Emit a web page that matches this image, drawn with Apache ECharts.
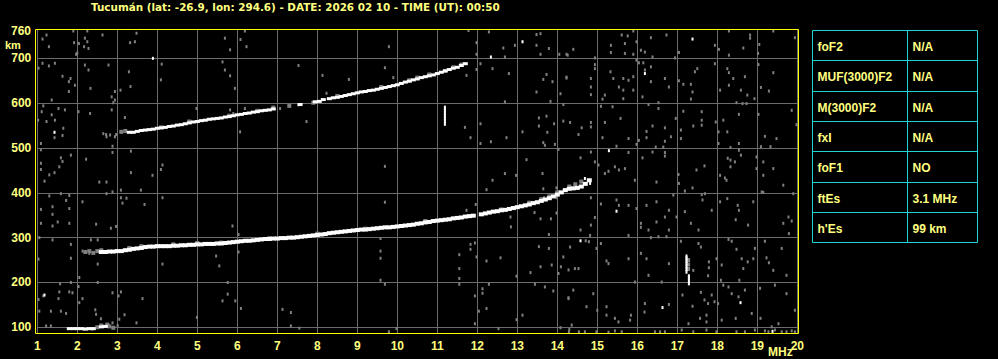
<!DOCTYPE html>
<html><head><meta charset="utf-8">
<script src="https://cdn.jsdelivr.net/npm/echarts@6/dist/echarts.min.js"></script>
<style>html,body{margin:0;padding:0;background:#000}#c{width:998px;height:359px}</style>
</head><body><div id="c"></div><script>
const titleText = 'Tucumán (lat: -26.9, lon: 294.6) - DATE: 2026 02 10 - TIME (UT): 00:50';
const yTickValues = [100, 200, 300, 400, 500, 600, 700];
const tableLabels = ['foF2', 'MUF(3000)F2', 'M(3000)F2', 'fxI', 'foF1', 'ftEs', "h'Es"];
const tableValues = ['N/A', 'N/A', 'N/A', 'N/A', 'NO', '3.1 MHz', '99 km'];

const lowerTrace = [[2.6,268],[2.7,268],[2.8,269],[2.9,269],[3.0,270],[3.1,270],[3.2,272],[3.3,273],[3.4,275],[3.5,276],[3.6,277],[3.7,279],[3.8,280],[3.9,280],[4.0,281],[4.1,281],[4.2,281],[4.3,281],[4.4,282],[4.5,282],[4.6,283],[4.7,283],[4.8,284],[4.9,284],[5.0,285],[5.1,285],[5.2,286],[5.3,286],[5.4,286],[5.5,287],[5.6,287],[5.7,288],[5.8,289],[5.9,290],[6.0,291],[6.1,292],[6.2,293],[6.3,293],[6.4,294],[6.5,295],[6.6,296],[6.7,297],[6.8,297],[6.9,298],[7.0,298],[7.1,299],[7.2,299],[7.3,300],[7.4,300],[7.5,301],[7.6,302],[7.7,303],[7.8,304],[7.9,305],[8.0,306],[8.1,307],[8.2,308],[8.3,310],[8.4,311],[8.5,312],[8.6,313],[8.7,314],[8.8,315],[8.9,316],[9.0,317],[9.1,318],[9.2,318],[9.3,319],[9.4,320],[9.5,321],[9.6,322],[9.7,323],[9.8,323],[9.9,324],[10.0,325],[10.1,326],[10.2,327],[10.3,328],[10.4,329],[10.5,331],[10.6,332],[10.7,334],[10.8,335],[10.9,337],[11.0,338],[11.1,339],[11.2,340],[11.3,341],[11.4,343],[11.5,344],[11.6,345],[11.7,347],[11.8,348],[11.9,349],[12.1,352],[12.2,354],[12.3,356],[12.4,358],[12.5,359],[12.6,361],[12.7,362],[12.8,364],[12.9,366],[13.0,368],[13.1,370],[13.2,372],[13.3,374],[13.4,377],[13.5,379],[13.6,382],[13.7,385],[13.8,388],[13.9,392],[14.0,396],[14.1,401],[14.2,406],[14.3,409],[14.4,410],[14.5,411],[14.6,414],[14.7,420],[14.8,428]];

const upperTrace = [[3.3,535],[3.4,535],[3.5,537],[3.6,539],[3.7,540],[3.8,541],[3.9,542],[4.0,544],[4.1,545],[4.2,546],[4.3,548],[4.4,549],[4.5,551],[4.6,552],[4.7,554],[4.8,556],[4.9,558],[5.0,559],[5.1,561],[5.2,562],[5.3,564],[5.4,565],[5.5,566],[5.6,567],[5.7,569],[5.8,570],[5.9,572],[6.0,574],[6.1,575],[6.2,577],[6.3,578],[6.4,580],[6.5,581],[6.6,583],[6.7,584],[6.8,585],[6.9,587],[7.57,597],[7.95,603],[8.05,604],[8.15,608],[8.3,610],[8.4,612],[8.5,613],[8.6,615],[8.7,617],[8.8,619],[8.9,621],[9.0,623],[9.1,625],[9.2,626],[9.3,628],[9.4,629],[9.5,631],[9.6,633],[9.7,635],[9.8,637],[9.9,639],[10.0,641],[10.1,644],[10.2,647],[10.3,649],[10.4,652],[10.5,654],[10.6,657],[10.7,659],[10.8,661],[10.9,663],[11.0,666],[11.1,669],[11.2,672],[11.3,675],[11.4,678],[11.5,680],[11.6,684],[11.7,688]];

const esTrace = [[1.8,97],[1.9,97],[2.0,97],[2.1,97],[2.2,96],[2.3,97],[2.4,97],[2.6,101],[2.7,102]];

const grayTrace = [[2.2,268],[2.3,270],[2.4,266],[2.5,270],[2.6,272],[3.3,277],[3.6,281],[4.4,285],[5.0,288],[5.6,289],[6.8,299],[8.0,309],[9.2,320],[10.7,337],[12.6,363],[13.3,378],[13.6,386],[13.8,392],[14.0,401],[14.3,414],[14.45,419],[14.6,425],
  [3.1,536],[3.2,538],[4.1,546],[4.8,559],[5.8,572],[6.5,583],[6.9,590],[7.3,594],[7.9,601],[8.5,616],[9.6,636],[10.3,651],[10.5,657],[10.8,664],[11.2,672],[11.4,680],[11.6,686],
  [2.5,100],[2.6,104],[2.75,106],[2.8,102],[2.9,99],[17.27,250],[17.27,240],[17.27,230]];

const whiteSpots = [[3.89,700],[1.43,535],[1.18,172],[12.34,703],[13.13,737],[17.38,743],[16.19,666],[15.29,494],[15.48,359],[14.58,293],[18.58,155],[16.63,144],[19.38,91],[14.69,432],[14.82,421]];

const whiteBars = [[11.19,554],[11.19,560],[11.19,566],[11.19,572],[11.19,578],[11.19,584],[11.19,590],[17.23,224],[17.23,230],[17.23,236],[17.23,242],[17.23,248],[17.23,254],[17.23,258],[17.29,198],[17.29,204],[17.29,210],[17.29,214]];

const noise = [
 [1.09,510],[1.43,523],[1.63,528],[2.72,530],[2.97,530],[2.88,504],[2.88,490],[1.09,496],[1.84,484],[1.59,478],[1.63,470],[2.22,475],[1.09,466],[1.55,458],[1.43,445],[1.30,440],[1.09,452],[1.18,426],[2.55,424],[2.73,424],[3.34,493],[3.34,445],[3.88,439],[4.13,462],[4.09,452],[3.09,406],[3.59,406],[2.73,398],[2.88,402],[1.30,393],[1.59,398],[1.80,394],[1.72,383],[2.13,380],[3.09,389],[3.23,388],[3.13,377],[3.68,374],[4.13,389],[1.09,363],[1.38,369],[1.80,365],[1.38,352],[1.51,335],[1.09,332],[1.38,326],[1.80,332],[2.47,330],[2.84,321],[2.97,325],[1.05,300],[1.38,295],[1.84,285],[2.34,295],[2.51,295],[2.13,270],[2.30,265],[1.03,252],[1.84,254],[2.51,241],[4.13,241],[5.47,259],[5.55,237],[5.88,326],[6.03,307],[6.03,268],[2.05,211],[2.51,200],[1.57,197],[1.84,200],[2.03,191],[1.88,177],[1.55,179],[1.80,179],[1.15,170],[2.88,177],[3.09,179],[3.03,170],[3.63,164],[2.13,164],[1.53,164],[1.03,162],[5.76,200],[5.76,174],[5.63,159],[5.95,159],[6.09,142],[7.13,140],[7.34,133],[1.05,136],[1.34,136],[1.59,136],[1.72,131],[2.45,139],[2.59,119],[2.47,129],[3.18,128],[3.48,110],[3.05,118],[3.01,104],[2.72,103],[1.34,103],[2.38,96],[2.88,110],[4.99,122],[7.34,103],[7.55,98],[2.05,155],[1.22,103],
 [1.13,743],[1.23,752],[1.29,726],[1.13,689],[1.44,689],[1.29,683],[1.03,678],[1.63,660],[1.79,648],[1.83,655],[1.94,640],[1.79,626],[2.33,633],[2.19,745],[2.25,737],[1.92,735],[2.04,733],[2.17,726],[2.28,722],[1.97,709],[2.00,712],[2.19,685],[2.28,674],[2.78,685],[2.63,752],[3.32,735],[3.44,737],[3.29,670],[3.33,637],[3.08,629],[2.94,626],[2.86,614],[2.94,607],[2.90,601],[1.36,607],[1.15,594],[1.53,588],[1.69,585],[1.36,574],[1.44,562],[1.65,544],[1.23,559],[1.11,581],[2.03,581],[2.32,577],[1.02,562],[3.19,568],[2.86,585],[2.94,525],[2.73,525],[2.65,532],[2.82,529],[4.98,588],[5.82,585],[6.19,588],[5.90,577],[6.07,536],[7.07,588],[7.30,594],[7.53,596],[7.53,684],[5.63,692],[5.69,674],[5.82,661],[5.94,633],[4.11,687],[4.09,652],[6.19,761],[6.08,742],[6.23,726],[5.82,719],[5.69,745],[1.90,761],[2.25,761],[3.48,756],[7.73,559],[8.13,662],[8.23,622],
 [9.79,726],[9.69,679],[8.79,653],[9.90,657],[11.78,762],[12.29,759],[11.98,735],[11.98,709],[12.65,723],[12.94,729],[12.69,703],[12.38,677],[11.98,675],[11.73,662],[12.08,688],[12.79,666],[13.48,753],[13.58,755],[13.48,729],[13.79,722],[13.58,709],[14.05,709],[14.23,709],[13.73,664],[13.65,653],[13.88,648],[13.48,625],[14.23,658],[14.08,621],[13.83,604],[14.15,597],[12.69,603],[12.08,554],[11.69,546],[11.83,523],[12.08,510],[12.34,514],[12.73,523],[13.13,536],[13.54,567],[13.54,549],[13.73,571],[13.75,535],[13.65,512],[13.69,506],[13.92,554],[13.94,508],[14.03,497],[14.15,560],[9.69,459],[13.23,474],[12.69,443],[12.38,428],[12.23,407],[12.97,439],[13.63,443],[13.65,409],[13.98,411],[13.98,389],[13.67,389],[9.69,379],[11.73,361],[11.96,374],[12.83,346],[12.84,324],[13.43,356],[13.58,342],[13.84,342],[13.79,307],[13.98,355],[9.58,298],[9.58,270],[9.58,254],[9.58,205],[9.69,196],[11.83,285],[11.83,274],[11.94,288],[11.98,257],[11.55,262],[11.55,231],[11.55,209],[11.55,196],[12.23,248],[12.58,255],[12.98,214],[13.33,222],[13.54,280],[13.79,276],[13.58,235],[13.86,239],[14.15,257],[14.09,235],[14.28,228],[14.03,220],[12.29,196],[12.13,186],[12.13,176],[11.94,170],[12.23,142],[12.04,136],[13.44,196],[13.69,190],[13.90,181],[13.13,127],[12.98,117],[11.94,108],[12.53,97],[9.79,90],[9.98,97],[14.28,166],[14.30,95],[14.08,99],
 [15.61,752],[15.76,750],[15.90,761],[15.69,733],[15.34,729],[15.34,713],[15.69,711],[15.90,709],[15.98,737],[16.09,718],[16.34,746],[16.38,703],[16.19,714],[16.73,752],[16.94,701],[17.04,713],[17.94,729],[18.04,720],[18.29,761],[18.29,707],[18.65,723],[18.82,752],[18.82,745],[19.05,731],[19.02,711],[19.94,746],[19.40,761],[14.40,720],[14.26,707],[14.94,701],
 [14.94,686],[14.94,677],[14.23,656],[14.84,655],[14.84,636],[14.84,619],[15.13,609],[15.19,618],[15.33,670],[15.40,655],[15.54,636],[15.65,655],[15.65,629],[15.65,610],[15.78,651],[15.90,659],[15.90,629],[15.98,696],[16.04,690],[16.15,690],[16.19,674],[16.34,681],[16.13,614],[16.34,648],[16.69,655],[16.79,636],[17.04,650],[17.15,642],[17.34,642],[17.38,625],[17.34,609],[17.44,670],[17.50,677],[17.94,688],[18.07,629],[18.25,677],[18.29,668],[18.29,640],[18.40,655],[18.59,629],[18.69,659],[18.75,618],[18.73,599],[18.93,610],[19.03,686],[19.09,635],[19.29,627],[19.40,668],[18.63,599],[18.48,601],[16.53,601],[16.28,597],
 [14.32,557],[14.53,530],[14.61,545],[14.84,557],[14.84,547],[15.09,593],[15.19,557],[15.38,592],[15.58,566],[15.78,521],[15.13,523],[15.48,504],[15.98,508],[16.04,517],[16.23,537],[16.23,523],[16.38,549],[16.46,502],[16.53,588],[16.65,502],[16.69,545],[16.69,515],[16.84,525],[16.96,566],[17.09,521],[17.09,540],[17.15,582],[17.40,549],[17.61,581],[17.61,562],[17.61,551],[17.96,558],[18.03,536],[18.03,510],[18.15,562],[18.25,536],[18.33,501],[18.54,510],[18.54,575],[19.03,575],[19.19,526],[19.48,521],[19.86,584],[19.98,552],[19.09,503],[19.33,503],
 [14.58,478],[14.84,491],[14.94,469],[15.03,462],[15.19,443],[15.28,448],[15.44,458],[15.54,451],[15.69,454],[15.78,490],[15.94,428],[16.38,491],[16.13,478],[16.48,424],[16.69,490],[16.69,482],[17.03,441],[17.04,421],[17.38,411],[17.68,460],[17.48,451],[18.07,439],[18.19,433],[18.23,428],[18.26,477],[18.33,473],[18.33,458],[18.44,469],[18.54,495],[18.59,484],[18.98,480],[18.98,454],[19.15,469],[19.15,439],[19.40,454],[19.65,417],[19.11,402],[17.19,404],[17.69,398],
 [14.84,389],[14.94,345],[14.84,328],[14.82,305],[14.58,317],[15.09,375],[15.48,384],[15.54,372],[15.78,372],[15.98,365],[16.09,332],[16.09,323],[16.23,372],[16.48,380],[16.48,335],[16.69,346],[16.79,361],[16.79,317],[16.90,395],[16.98,346],[17.19,358],[17.34,332],[17.53,317],[17.61,396],[17.63,384],[17.86,361],[18.07,380],[18.25,387],[18.46,340],[18.51,372],[18.54,361],[18.77,328],[18.90,380],[19.15,401],[19.65,332],[19.78,346],[19.86,337],[19.90,398],[19.79,309],[15.78,305],[16.34,300],[16.53,302],[16.73,302],[16.28,317],
 [14.32,279],[14.53,231],[14.44,231],[14.71,293],[14.79,291],[15.09,287],[14.98,276],[15.23,248],[15.28,242],[15.78,253],[15.94,201],[16.23,253],[16.09,265],[16.28,216],[16.61,201],[16.79,242],[17.09,292],[17.40,227],[17.53,287],[17.59,279],[17.79,246],[17.79,233],[17.77,215],[17.98,253],[18.11,239],[18.09,205],[18.28,296],[18.48,274],[18.61,253],[18.55,205],[18.65,231],[18.76,246],[18.90,253],[18.94,276],[19.23,255],[19.29,244],[19.40,227],[19.61,276],[19.73,216],[19.19,292],[18.36,292],
 [14.40,183],[14.28,164],[14.73,146],[14.90,175],[15.00,138],[15.23,146],[15.23,127],[15.44,120],[15.53,112],[15.84,127],[15.82,116],[16.18,134],[16.19,153],[16.79,151],[17.13,172],[17.38,147],[17.59,178],[17.68,161],[17.77,153],[17.93,157],[17.86,172],[17.73,127],[17.73,112],[17.57,120],[18.02,153],[18.15,194],[18.28,190],[18.36,175],[18.53,168],[18.69,183],[19.07,187],[19.44,194],[19.73,175],[19.94,138],[18.86,131],[18.11,116],[18.46,120],[19.08,120],[19.36,101],[14.36,105],[19.53,108],[17.28,108],
 [14.29,90],[14.54,90],[14.69,90],[14.98,90],[15.28,89],[15.44,92],[15.61,90],[16.44,90],[16.57,90],[16.69,90],[17.11,94],[17.40,90],[17.73,94],[17.98,90],[18.48,90],[18.69,90],[18.94,94],[19.19,92],[19.28,90],[19.44,94],[19.61,90],[19.73,90],[19.86,92],[19.94,90]
];

const YEL = '#ffff80';
const FONT = '"Liberation Sans", Arial, sans-serif';
const TFONT = '"DejaVu Sans", sans-serif';
const chart = echarts.init(document.getElementById('c'), null, {renderer: 'svg'});

const graphics = [
  {type: 'text', x: 91, y: 7, z: 10, style: {text: titleText, fill: YEL, font: 'bold 10.4px ' + TFONT, textAlign: 'left', textVerticalAlign: 'middle'}},
  {type: 'text', x: 31, y: 31, z: 10, style: {text: '760', fill: YEL, font: 'bold 12px ' + FONT, textAlign: 'right', textVerticalAlign: 'middle'}},
  {type: 'text', x: 5, y: 45, z: 10, style: {text: 'km', fill: YEL, font: 'bold 11px ' + FONT, textAlign: 'left', textVerticalAlign: 'middle'}},
  {type: 'text', x: 768, y: 352, z: 10, style: {text: 'MHz', fill: YEL, font: 'bold 12px ' + FONT, textAlign: 'left', textVerticalAlign: 'middle'}},
  {type: 'rect', z: 20, silent: true, shape: {x: 35.5, y: 29.5, width: 763, height: 304}, style: {fill: 'none', stroke: '#ffff00', lineWidth: 1}}
];
// table
const tx0 = 812.5, tx1 = 977.5, tmid = 907.5, ty0 = 30;
const rowStep = 30.33;
const rowY = i => Math.round(ty0 + i * rowStep) + 0.5;
graphics.push({type: 'rect', z: 20, shape: {x: tx0, y: rowY(0), width: tx1 - tx0, height: rowY(tableLabels.length) - rowY(0)}, style: {fill: 'none', stroke: '#22d3d3', lineWidth: 1}});
graphics.push({type: 'line', z: 20, shape: {x1: tmid, y1: rowY(0), x2: tmid, y2: rowY(tableLabels.length)}, style: {stroke: '#22d3d3', lineWidth: 1}});
tableLabels.forEach((lab, i) => {
  if (i > 0) graphics.push({type: 'line', z: 20, shape: {x1: tx0, y1: rowY(i), x2: tx1, y2: rowY(i)}, style: {stroke: '#22d3d3', lineWidth: 1}});
  const cy = (rowY(i) + rowY(i + 1)) / 2 + 1;
  graphics.push({type: 'text', x: 817.5, y: cy, z: 21, style: {text: lab, fill: YEL, font: 'bold 12px ' + FONT, textAlign: 'left', textVerticalAlign: 'middle'}});
  graphics.push({type: 'text', x: 912.5, y: cy, z: 21, style: {text: tableValues[i], fill: YEL, font: 'bold 12px ' + FONT, textAlign: 'left', textVerticalAlign: 'middle'}});
});

function sc(name, data, color, size, z) {
  return {name, type: 'scatter', data, symbol: 'rect', symbolSize: size, itemStyle: {color, opacity: 1}, z, silent: true, clip: false, animation: false};
}

chart.setOption({
  backgroundColor: '#000',
  animation: false,
  grid: {left: 37.3, right: 200.7, top: 30, bottom: 26, containLabel: false},
  xAxis: {
    type: 'value', min: 1, max: 20, interval: 1,
    axisLine: {show: false}, axisTick: {show: false},
    splitLine: {show: true, lineStyle: {color: '#6c6c6c', width: 1}},
    axisLabel: {color: YEL, fontWeight: 'bold', fontSize: 12, fontFamily: FONT, margin: 7, showMinLabel: true, showMaxLabel: true}
  },
  yAxis: {
    type: 'value', min: 87.3, max: 763.2,
    axisLine: {show: false},
    axisTick: {show: false, customValues: yTickValues},
    splitLine: {show: true, lineStyle: {color: '#6c6c6c', width: 1}},
    axisLabel: {color: YEL, fontWeight: 'bold', fontSize: 12, fontFamily: FONT, margin: 6, customValues: yTickValues}
  },
  graphic: graphics,
  series: [
    sc('noise', noise, '#808080', [2, 3], 2),
    sc('grayTrace', grayTrace, '#808080', [4, 4], 3),
    sc('lower', lowerTrace, '#ffffff', [5, 4], 4),
    sc('upper', upperTrace, '#ffffff', [5, 3], 4),
    sc('es', esTrace, '#ffffff', [5, 3], 4),
    sc('spots', whiteSpots, '#ffffff', [2, 3], 4),
    sc('bars', whiteBars, '#ffffff', [2, 4], 4)
  ]
});
</script></body></html>
